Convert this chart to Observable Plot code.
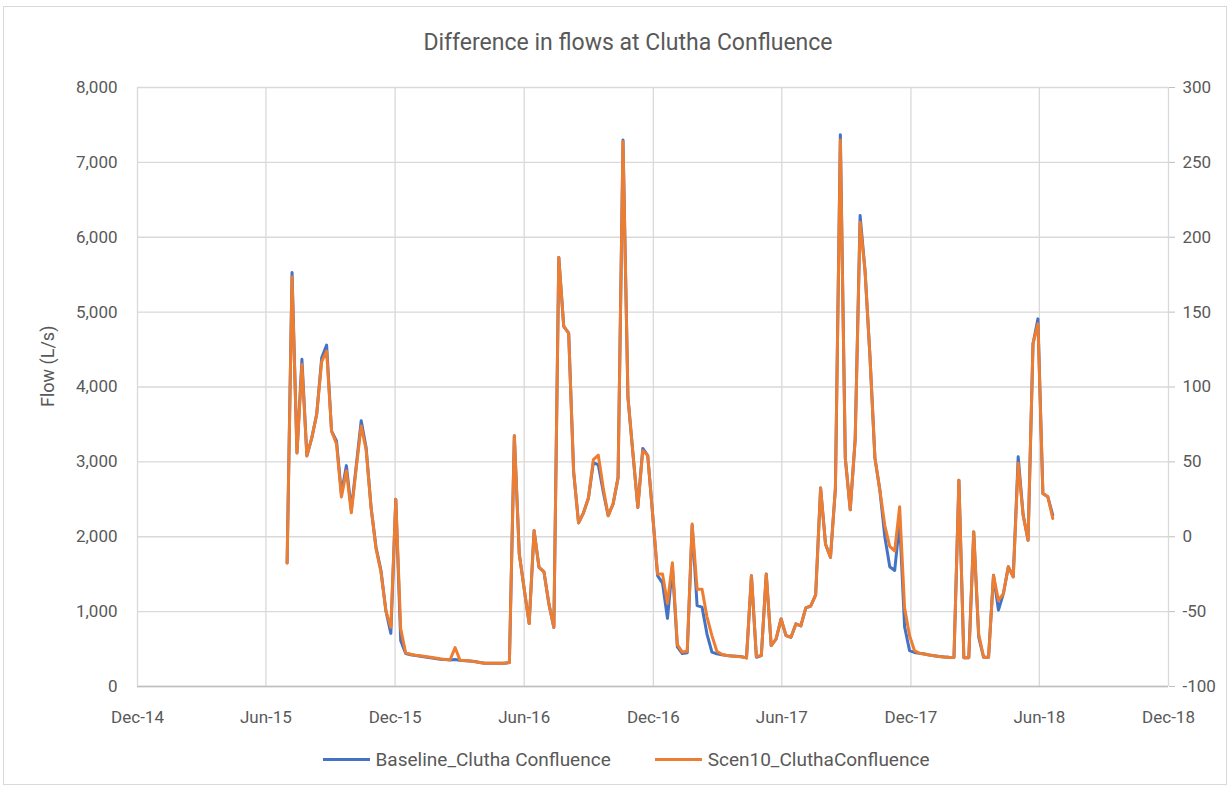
<!DOCTYPE html>
<html>
<head>
<meta charset="utf-8">
<script src="https://cdn.jsdelivr.net/npm/d3@7"></script>
<script src="https://cdn.jsdelivr.net/npm/@observablehq/plot@0.6"></script>
<style>
  html, body { margin: 0; padding: 0; background: #fff; }
  #wrap { position: relative; width: 1232px; height: 790px; font-family: Roboto, "Open Sans", sans-serif; color: #595959; }
  #border { position: absolute; left: 3px; top: 6px; width: 1224px; height: 779px; border: 1px solid #d9d9d9; box-sizing: border-box; }
  #title { position: absolute; top: 0; left: 12px; width: 1232px; height: 70px; line-height: 86px; text-align: center; font-size: 23px; }
  #chart { position: absolute; top: 70px; left: 0; }
  #legend { position: absolute; top: 748px; left: 10px; width: 1232px; display: flex; justify-content: center; gap: 44px; font-size: 19px; }
  .item { display: flex; align-items: center; gap: 6px; }
  .sw { width: 47px; height: 3px; }
</style>
</head>
<body>
<div id="wrap">
  <div id="border"></div>
  <div id="title">Difference in flows at Clutha Confluence</div>
  <div id="chart"></div>
  <div id="legend"></div>
</div>
<script>
const seriesNames = ["Baseline_Clutha Confluence", "Scen10_CluthaConfluence"];
const seriesColors = ["#4472C4", "#ED7D31"];

const dates = [
"2015-07-01","2015-07-08","2015-07-15","2015-07-22","2015-07-29","2015-08-05","2015-08-12","2015-08-19","2015-08-26",
"2015-09-02","2015-09-09","2015-09-16","2015-09-23","2015-09-30","2015-10-07","2015-10-14","2015-10-21","2015-10-28",
"2015-11-04","2015-11-11","2015-11-18","2015-11-25","2015-12-02","2015-12-09","2015-12-16","2015-12-23","2015-12-30",
"2016-01-06","2016-01-13","2016-01-20","2016-01-27","2016-02-03","2016-02-10","2016-02-17","2016-02-24",
"2016-03-02","2016-03-09","2016-03-16","2016-03-23","2016-03-30","2016-04-06","2016-04-13","2016-04-20","2016-04-27",
"2016-05-04","2016-05-11","2016-05-18","2016-05-25","2016-06-01","2016-06-08","2016-06-15","2016-06-22","2016-06-29",
"2016-07-06","2016-07-13","2016-07-20","2016-07-27","2016-08-03","2016-08-10","2016-08-17","2016-08-24","2016-08-31",
"2016-09-07","2016-09-14","2016-09-21","2016-09-28","2016-10-05","2016-10-12","2016-10-19","2016-10-26",
"2016-11-02","2016-11-09","2016-11-16","2016-11-23","2016-11-30","2016-12-07","2016-12-14","2016-12-21","2016-12-28",
"2017-01-04","2017-01-11","2017-01-18","2017-01-25","2017-02-01","2017-02-08","2017-02-15","2017-02-22",
"2017-03-01","2017-03-08","2017-03-15","2017-03-22","2017-03-29","2017-04-05","2017-04-12","2017-04-19","2017-04-26",
"2017-05-03","2017-05-10","2017-05-17","2017-05-24","2017-05-31","2017-06-07","2017-06-14","2017-06-21","2017-06-28",
"2017-07-05","2017-07-12","2017-07-19","2017-07-26","2017-08-02","2017-08-09","2017-08-16","2017-08-23","2017-08-30",
"2017-09-06","2017-09-13","2017-09-20","2017-09-27","2017-10-04","2017-10-11","2017-10-18","2017-10-25",
"2017-11-01","2017-11-08","2017-11-15","2017-11-22","2017-11-29","2017-12-06","2017-12-13","2017-12-20","2017-12-27",
"2018-01-03","2018-01-10","2018-01-17","2018-01-24","2018-01-31","2018-02-07","2018-02-14","2018-02-21","2018-02-28",
"2018-03-07","2018-03-14","2018-03-21","2018-03-28","2018-04-04","2018-04-11","2018-04-18","2018-04-25",
"2018-05-02","2018-05-09","2018-05-16","2018-05-23","2018-05-30","2018-06-06","2018-06-13","2018-06-20"
];

// Baseline flow (L/s), left axis
const baseline = [
1650,5530,3120,4370,3080,3320,3640,4390,4560,3410,3280,2570,2950,2360,2950,3550,3190,2390,1860,1550,
1010,710,2500,610,440,425,413,405,395,385,375,365,360,355,360,350,345,340,333,320,
312,310,310,310,310,320,3350,1770,1300,840,2080,1590,1530,1100,790,5730,4810,4720,2870,2185,
2320,2517,2990,2960,2600,2280,2440,2790,7300,3860,3120,2392,3180,3085,2300,1480,1380,910,1600,530,
440,450,2150,1080,1060,700,460,436,425,413,408,403,398,382,1480,391,413,1502,547,636,
902,680,658,836,810,1050,1075,1225,2650,1900,1725,2650,7370,3050,2360,3300,6290,5550,4400,3050,
2620,2000,1600,1550,2200,800,480,455,445,435,420,410,400,395,390,388,2755,385,385,2065,
660,390,390,1485,1020,1240,1600,1465,3067,2290,1955,4578,4910,2578,2533,2289
];

// Scen10 (right axis units)
const scen10 = [
-17.5,173.5,56,115,54,66,82,117,124,70.5,62,26.5,44,16,46,74,58,19.5,-8,-23.5,
-49.5,-60.5,25,-61.5,-77.5,-78.5,-79.1,-79.5,-80,-80.5,-81,-81.5,-81.9,-82.1,-74,-82.4,-82.7,-83,-83.4,-84,
-84.4,-84.5,-84.5,-84.5,-84.5,-84,67.5,-11.5,-35,-58,4,-20.5,-23.5,-45,-60.5,186.5,140.5,136,43.5,9.3,
16,25.9,51.5,54.5,32.5,14,22,39.5,264,93,56,19.6,57.5,54.3,15,-24.9,-24.9,-44.5,-17.3,-72,
-77,-76.5,8.5,-35,-35,-53.5,-66,-76.5,-78.5,-79.3,-79.6,-79.9,-80.1,-80.9,-26,-80,-79.3,-24.9,-72.7,-68.2,
-54.9,-66,-67.1,-58.2,-59.5,-47.5,-46.3,-38.8,32.5,-5,-13.8,32.5,265,52.5,18,65,210,177.5,120,52.5,
31,7.5,-6.5,-9.5,20,-47.5,-66,-76,-77.8,-78.3,-79,-79.5,-80,-80.3,-80.5,-80.6,37.8,-80.8,-80.8,3.3,
-65,-80.5,-80.5,-25.8,-42.5,-38,-20,-26.8,49,14.5,-2.3,128.9,142.3,28.9,26.7,12.2
];

const leftTicks = [0,1000,2000,3000,4000,5000,6000,7000,8000];
const rightTicks = [-100,-50,0,50,100,150,200,250,300];
const xTickDates = ["2014-12-01","2015-06-01","2015-12-01","2016-06-01","2016-12-01","2017-06-01","2017-12-01","2018-06-01","2018-12-01"];
const xTickLabels = ["Dec-14","Jun-15","Dec-15","Jun-16","Dec-16","Jun-17","Dec-17","Jun-18","Dec-18"];

// secondary axis domain [-100, 300] mapped onto primary [0, 8000]
const rightDomain = [-100, 300];
const leftDomain = [0, 8000];
const toLeft = r => leftDomain[0] + (r - rightDomain[0]) / (rightDomain[1] - rightDomain[0]) * (leftDomain[1] - leftDomain[0]);

const data = dates.map((d, i) => ({date: new Date(d), base: baseline[i], scen: scen10[i]}));
const xTicks = xTickDates.map(d => new Date(d));

const chart = Plot.plot({
  width: 1232,
  height: 680,
  marginLeft: 137,
  marginRight: 64,
  marginTop: 17,
  marginBottom: 64,
  style: {fontFamily: "Roboto, 'Open Sans', sans-serif", fontSize: "17px", color: "#595959", background: "transparent"},
  x: {type: "utc", domain: [xTicks[0], xTicks[xTicks.length - 1]]},
  y: {domain: leftDomain},
  marks: [
    Plot.gridY(leftTicks, {stroke: "#d9d9d9", strokeOpacity: 1, strokeWidth: 1.3}),
    Plot.gridX(xTicks, {stroke: "#d9d9d9", strokeOpacity: 1, strokeWidth: 1.3}),
    Plot.ruleY([0], {stroke: "#bfbfbf", strokeWidth: 1.5}),
    Plot.axisY(leftTicks, {anchor: "left", tickSize: 0, tickPadding: 20, tickFormat: d3.format(","), label: null, fontSize: 17}),
    Plot.axisY(rightTicks.map(toLeft), {anchor: "right", tickSize: 6, tickPadding: 8, stroke: "#bfbfbf", tickFormat: (d, i) => String(rightTicks[i]), label: null, fontSize: 17}),
    Plot.axisX(xTicks, {anchor: "bottom", tickSize: 0, tickPadding: 24, tickFormat: (d, i) => xTickLabels[i], label: null, fontSize: 17}),
    Plot.lineY(data, {x: "date", y: "base", stroke: seriesColors[0], strokeWidth: 3, strokeLinejoin: "round"}),
    Plot.lineY(data, {x: "date", y: d => toLeft(d.scen), stroke: seriesColors[1], strokeWidth: 3, strokeLinejoin: "round"}),
    Plot.text(["Flow (L/s)"], {frameAnchor: "left", dx: -89, dy: 20, rotate: -90, fontSize: 18, fill: "#595959"})
  ]
});
document.getElementById("chart").appendChild(chart);

const legend = document.getElementById("legend");
seriesNames.forEach((name, i) => {
  const item = document.createElement("div");
  item.className = "item";
  const sw = document.createElement("div");
  sw.className = "sw";
  sw.style.background = seriesColors[i];
  const label = document.createElement("span");
  label.textContent = name;
  item.appendChild(sw);
  item.appendChild(label);
  legend.appendChild(item);
});
</script>
</body>
</html>
